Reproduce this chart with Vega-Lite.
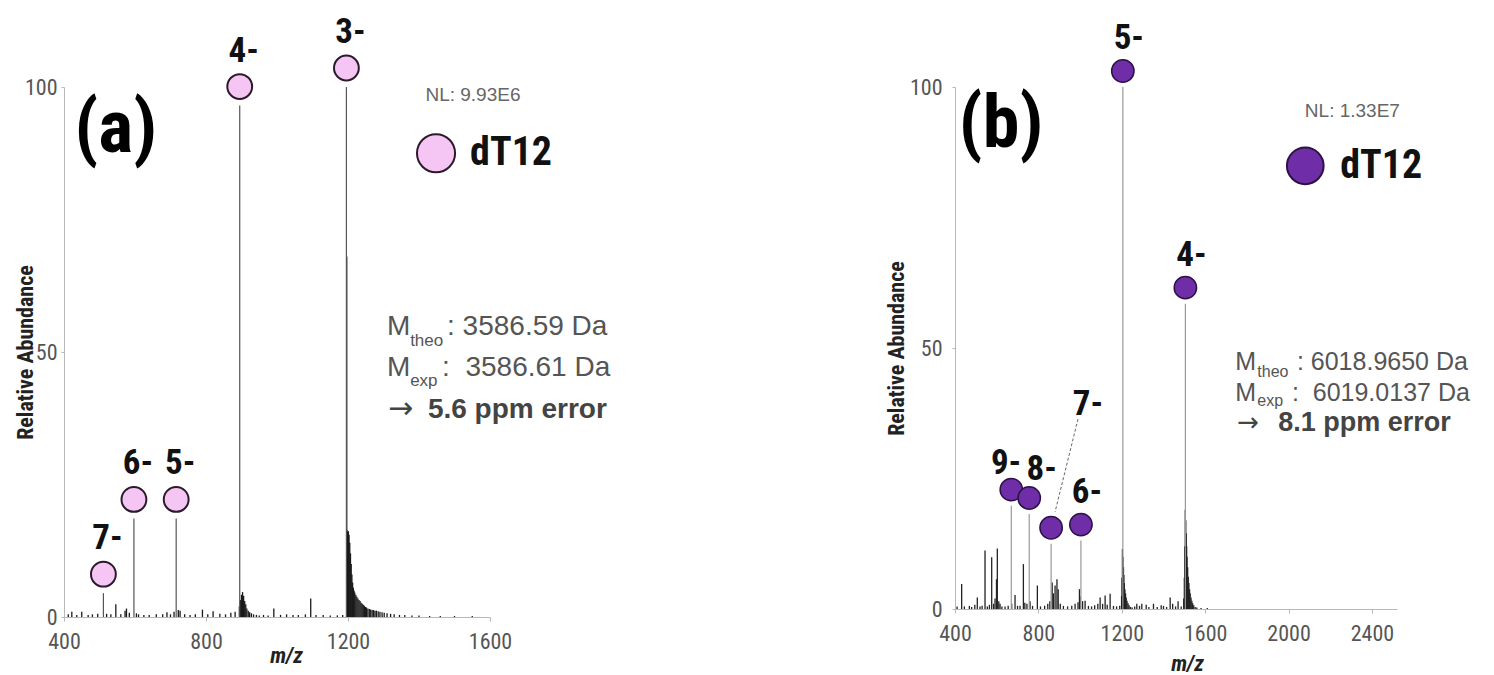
{
  "$schema": "https://vega.github.io/schema/vega-lite/v6.json",
  "autosize": {"type": "none"},
  "padding": {"left": 64, "top": 87, "right": 1430, "bottom": 588},
  "background": "white",
  "bounds": "flush",
  "spacing": 465,
  "config": {
    "view": {"stroke": null},
    "axis": {
      "domainColor": "#b8b8b8", "tickColor": "#b8b8b8", "domainWidth": 1, "tickWidth": 1, "grid": false,
      "labelFont": "Liberation Sans Narrow, Roboto Condensed, Liberation Sans", "labelFontSize": 22, "labelColor": "#555",
      "titleFont": "Liberation Sans Narrow, Roboto Condensed, Liberation Sans", "titleFontSize": 22, "titleFontWeight": "bold", "titleColor": "#222",
      "labelOverlap": false, "labelFlush": false, "format": "d"
    },
    "text": {"font": "Liberation Sans"}
  },
  "datasets": {
    "specA": [
      {"mz": 412, "ab": 0.5}, {"mz": 422, "ab": 1}, {"mz": 436, "ab": 0.4}, {"mz": 450, "ab": 1}, {"mz": 468, "ab": 0.4},
      {"mz": 480, "ab": 0.5}, {"mz": 495, "ab": 0.6}, {"mz": 520, "ab": 0.6}, {"mz": 532, "ab": 0.5}, {"mz": 546, "ab": 2.4},
      {"mz": 560, "ab": 0.5}, {"mz": 572, "ab": 1.2}, {"mz": 576, "ab": 1.6}, {"mz": 584, "ab": 0.8}, {"mz": 604, "ab": 0.7},
      {"mz": 610, "ab": 0.5}, {"mz": 625, "ab": 0.4}, {"mz": 640, "ab": 0.4}, {"mz": 660, "ab": 0.5}, {"mz": 678, "ab": 0.5},
      {"mz": 690, "ab": 0.9}, {"mz": 700, "ab": 0.5}, {"mz": 710, "ab": 1}, {"mz": 722, "ab": 1.3}, {"mz": 727, "ab": 1.2},
      {"mz": 740, "ab": 0.5}, {"mz": 755, "ab": 0.4}, {"mz": 770, "ab": 0.5}, {"mz": 790, "ab": 1.4}, {"mz": 805, "ab": 0.5},
      {"mz": 820, "ab": 1.1}, {"mz": 839, "ab": 0.6}, {"mz": 855, "ab": 0.5}, {"mz": 870, "ab": 0.8}, {"mz": 882, "ab": 1},
      {"mz": 894, "ab": 2}, {"mz": 897, "ab": 3.2}, {"mz": 900, "ab": 4.2}, {"mz": 903, "ab": 4.7}, {"mz": 906, "ab": 4},
      {"mz": 909, "ab": 3}, {"mz": 912, "ab": 2.4}, {"mz": 915, "ab": 1.6}, {"mz": 919, "ab": 1.2}, {"mz": 923, "ab": 0.9},
      {"mz": 928, "ab": 0.7}, {"mz": 934, "ab": 0.5}, {"mz": 942, "ab": 0.4}, {"mz": 950, "ab": 0.3}, {"mz": 962, "ab": 0.4},
      {"mz": 975, "ab": 0.3}, {"mz": 991, "ab": 1.6}, {"mz": 1010, "ab": 0.4}, {"mz": 1027, "ab": 0.5}, {"mz": 1045, "ab": 0.4},
      {"mz": 1060, "ab": 0.4}, {"mz": 1080, "ab": 0.5}, {"mz": 1095, "ab": 3.5}, {"mz": 1110, "ab": 0.4}, {"mz": 1130, "ab": 0.4},
      {"mz": 1150, "ab": 0.3}, {"mz": 1170, "ab": 0.3}, {"mz": 1185, "ab": 0.4},
      {"mz": 1196.5, "ab": 68}, {"mz": 1197, "ab": 16.4}, {"mz": 1199, "ab": 16}, {"mz": 1201, "ab": 16.2}, {"mz": 1203, "ab": 15.5},
      {"mz": 1205, "ab": 14}, {"mz": 1207, "ab": 12}, {"mz": 1209, "ab": 10}, {"mz": 1211, "ab": 8}, {"mz": 1213, "ab": 6.5},
      {"mz": 1215, "ab": 5.5}, {"mz": 1217, "ab": 5}, {"mz": 1219, "ab": 4.6}, {"mz": 1222, "ab": 4.2}, {"mz": 1225, "ab": 3.8},
      {"mz": 1228, "ab": 3.5}, {"mz": 1231, "ab": 3.2}, {"mz": 1234, "ab": 3}, {"mz": 1237, "ab": 2.7}, {"mz": 1240, "ab": 2.5},
      {"mz": 1243, "ab": 2.3}, {"mz": 1246, "ab": 2.1}, {"mz": 1249, "ab": 1.9}, {"mz": 1252, "ab": 1.8}, {"mz": 1256, "ab": 1.6},
      {"mz": 1260, "ab": 1.5}, {"mz": 1264, "ab": 1.4}, {"mz": 1268, "ab": 1.3}, {"mz": 1272, "ab": 1.3}, {"mz": 1276, "ab": 1.2},
      {"mz": 1280, "ab": 1.2}, {"mz": 1285, "ab": 1.1}, {"mz": 1290, "ab": 1}, {"mz": 1296, "ab": 0.9}, {"mz": 1302, "ab": 0.8},
      {"mz": 1310, "ab": 0.7}, {"mz": 1320, "ab": 0.6}, {"mz": 1330, "ab": 0.5}, {"mz": 1345, "ab": 0.4}, {"mz": 1360, "ab": 0.4},
      {"mz": 1380, "ab": 0.3}, {"mz": 1400, "ab": 0.3}, {"mz": 1430, "ab": 0.2}, {"mz": 1460, "ab": 0.2}, {"mz": 1500, "ab": 0.2},
      {"mz": 1550, "ab": 0.2}
    ],
    "peaksA": [
      {"mz": 511, "ab": 4.5, "charge": "7-"},
      {"mz": 597, "ab": 18.6, "charge": "6-"},
      {"mz": 716, "ab": 18.6, "charge": "5-"},
      {"mz": 895, "ab": 96.5, "charge": "4-"},
      {"mz": 1195.5, "ab": 100, "charge": "3-"}
    ],
    "annA": [
      {"kind": "panel", "mz": 546, "ab": 91.9, "t": "(a)"},
      {"kind": "nl", "mz": 1552, "ab": 98.5, "t": "NL: 9.93E6"},
      {"kind": "legend", "mz": 1448, "ab": 87.5, "t": ""},
      {"kind": "name", "mz": 1544, "ab": 87.5, "t": "dT12"},
      {"kind": "mass", "mz": 1310, "ab": 54.7, "t": "M"},
      {"kind": "sub", "mz": 1375, "ab": 52.0, "t": "theo"},
      {"kind": "mass", "mz": 1479, "ab": 54.7, "t": ": 3586.59 Da"},
      {"kind": "mass", "mz": 1310, "ab": 47.0, "t": "M"},
      {"kind": "sub", "mz": 1375, "ab": 44.6, "t": "exp"},
      {"kind": "mass", "mz": 1465, "ab": 47.0, "t": ":\u00a0 3586.61 Da"},
      {"kind": "arrow", "mz": 1313, "ab": 39.3, "t": "→"},
      {"kind": "error", "mz": 1425, "ab": 39.1, "t": "5.6 ppm error"}
    ],
    "specB": [
      {"mz": 410, "ab": 0.5}, {"mz": 432, "ab": 4.8}, {"mz": 445, "ab": 0.5}, {"mz": 469, "ab": 0.6}, {"mz": 480, "ab": 0.4},
      {"mz": 495, "ab": 0.8}, {"mz": 507, "ab": 2.2}, {"mz": 520, "ab": 0.5}, {"mz": 530, "ab": 0.6}, {"mz": 544, "ab": 11.2},
      {"mz": 555, "ab": 0.5}, {"mz": 565, "ab": 0.8}, {"mz": 576, "ab": 9.9}, {"mz": 585, "ab": 1}, {"mz": 592, "ab": 2},
      {"mz": 599, "ab": 5.7}, {"mz": 603, "ab": 11.6}, {"mz": 610, "ab": 1.5}, {"mz": 616, "ab": 1}, {"mz": 625, "ab": 0.5},
      {"mz": 640, "ab": 0.5}, {"mz": 655, "ab": 0.6}, {"mz": 672, "ab": 1}, {"mz": 688, "ab": 2.7}, {"mz": 700, "ab": 0.6},
      {"mz": 712, "ab": 0.6}, {"mz": 728, "ab": 8.6}, {"mz": 735, "ab": 1.2}, {"mz": 745, "ab": 1}, {"mz": 760, "ab": 1.5},
      {"mz": 772, "ab": 0.6}, {"mz": 795, "ab": 4.5}, {"mz": 810, "ab": 0.5}, {"mz": 830, "ab": 0.6}, {"mz": 845, "ab": 1},
      {"mz": 855, "ab": 1.5}, {"mz": 866, "ab": 5.1}, {"mz": 872, "ab": 3}, {"mz": 880, "ab": 4.5}, {"mz": 889, "ab": 5.7},
      {"mz": 895, "ab": 3.8}, {"mz": 905, "ab": 1}, {"mz": 920, "ab": 0.6}, {"mz": 940, "ab": 0.5}, {"mz": 960, "ab": 0.6},
      {"mz": 976, "ab": 1}, {"mz": 990, "ab": 1.3}, {"mz": 997, "ab": 3.8}, {"mz": 1000, "ab": 2.4}, {"mz": 1012, "ab": 1.5},
      {"mz": 1024, "ab": 1.6}, {"mz": 1040, "ab": 0.6}, {"mz": 1055, "ab": 0.5}, {"mz": 1070, "ab": 0.7}, {"mz": 1085, "ab": 1},
      {"mz": 1096, "ab": 2.2}, {"mz": 1108, "ab": 1}, {"mz": 1120, "ab": 2.6}, {"mz": 1130, "ab": 0.8}, {"mz": 1144, "ab": 2.9},
      {"mz": 1160, "ab": 0.6}, {"mz": 1175, "ab": 0.5}, {"mz": 1190, "ab": 0.6},
      {"mz": 1199, "ab": 2.5}, {"mz": 1201, "ab": 6}, {"mz": 1203, "ab": 11.5}, {"mz": 1205.5, "ab": 10}, {"mz": 1208, "ab": 8},
      {"mz": 1210, "ab": 6.5}, {"mz": 1212, "ab": 5}, {"mz": 1215, "ab": 3.8}, {"mz": 1218, "ab": 3}, {"mz": 1221, "ab": 2.2},
      {"mz": 1225, "ab": 1.6}, {"mz": 1230, "ab": 1.1}, {"mz": 1235, "ab": 0.7}, {"mz": 1242, "ab": 0.4}, {"mz": 1250, "ab": 0.3},
      {"mz": 1262, "ab": 0.5}, {"mz": 1272, "ab": 1}, {"mz": 1285, "ab": 0.6}, {"mz": 1296, "ab": 1}, {"mz": 1317, "ab": 0.8},
      {"mz": 1330, "ab": 0.4}, {"mz": 1352, "ab": 1}, {"mz": 1370, "ab": 0.4}, {"mz": 1389, "ab": 0.7}, {"mz": 1400, "ab": 0.6},
      {"mz": 1415, "ab": 0.4}, {"mz": 1432, "ab": 2.2}, {"mz": 1444, "ab": 1}, {"mz": 1458, "ab": 0.5}, {"mz": 1470, "ab": 1.5},
      {"mz": 1485, "ab": 0.5},
      {"mz": 1497, "ab": 2}, {"mz": 1500, "ab": 6}, {"mz": 1502, "ab": 12}, {"mz": 1504.5, "ab": 19}, {"mz": 1507, "ab": 17},
      {"mz": 1509, "ab": 14.5}, {"mz": 1511, "ab": 12}, {"mz": 1513, "ab": 10}, {"mz": 1516, "ab": 8}, {"mz": 1519, "ab": 6.2},
      {"mz": 1522, "ab": 5}, {"mz": 1525, "ab": 3.8}, {"mz": 1528, "ab": 3}, {"mz": 1532, "ab": 2.2}, {"mz": 1536, "ab": 1.6},
      {"mz": 1540, "ab": 1.1}, {"mz": 1545, "ab": 0.7}, {"mz": 1552, "ab": 0.4}, {"mz": 1560, "ab": 0.3}, {"mz": 1580, "ab": 0.2},
      {"mz": 1610, "ab": 0.2}
    ],
    "peaksB": [
      {"mz": 670, "ab": 19.8, "charge": "9-"},
      {"mz": 756, "ab": 18.2, "charge": "8-"},
      {"mz": 861, "ab": 12.5, "charge": "7-"},
      {"mz": 1004, "ab": 13.1, "charge": "6-"},
      {"mz": 1205, "ab": 100, "charge": "5-"},
      {"mz": 1505, "ab": 58.5, "charge": "4-"}
    ],
    "annB": [
      {"kind": "panel", "mz": 621, "ab": 92.7, "t": "(b)"},
      {"kind": "nl", "mz": 2306, "ab": 95.4, "t": "NL: 1.33E7"},
      {"kind": "legend", "mz": 2080, "ab": 84.9, "t": ""},
      {"kind": "name", "mz": 2248, "ab": 84.9, "t": "dT12"},
      {"kind": "mass", "mz": 1744, "ab": 47.3, "t": "M"},
      {"kind": "sub", "mz": 1850, "ab": 45.4, "t": "theo"},
      {"kind": "mass", "mz": 2040, "ab": 47.3, "t": ": 6018.9650 Da"},
      {"kind": "mass", "mz": 1744, "ab": 41.4, "t": "M"},
      {"kind": "sub", "mz": 1850, "ab": 39.9, "t": "exp"},
      {"kind": "mass", "mz": 2016, "ab": 41.4, "t": ":\u00a0 6019.0137 Da"},
      {"kind": "arrow", "mz": 1754, "ab": 35.7, "t": "→"},
      {"kind": "error", "mz": 1950, "ab": 35.6, "t": "8.1 ppm error"},
      {"kind": "charge", "mz": 1038, "ab": 39.3, "t": "7-"},
      {"kind": "charge", "mz": 645, "ab": 28.0, "t": "9-"},
      {"kind": "charge", "mz": 816, "ab": 26.8, "t": "8-"}
    ],
    "leadB": [
      {"mz": 990, "ab": 36.4, "mz2": 880, "ab2": 18.6}
    ]
  },
  "hconcat": [
    {
      "width": 426,
      "height": 530,
      "encoding": {
        "x": {"field": "mz", "type": "quantitative", "scale": {"domain": [400, 1600], "nice": false, "zero": false},
          "axis": {"values": [400, 800, 1200, 1600], "tickSize": 4, "labelPadding": 10, "labelDx": 10, "title": "m/z", "titleFontStyle": "italic", "titleX": 222, "titleY": 45, "titleBaseline": "alphabetic"}},
        "y": {"field": "ab", "type": "quantitative", "scale": {"domain": [0, 100], "nice": false},
          "axis": {"values": [0, 50, 100], "tickSize": 3, "labelPadding": 4, "labelDy": 2, "title": "Relative Abundance", "titleX": -32, "titleY": 265, "titleBaseline": "alphabetic"}}
      },
      "layer": [
        {"data": {"name": "specA"}, "mark": {"type": "rule", "color": "#1a1a1a", "strokeWidth": 1.3}, "encoding": {"y2": {"datum": 0}}},
        {"data": {"name": "peaksA"}, "mark": {"type": "rule", "color": "#555", "strokeWidth": 1.2}, "encoding": {"y2": {"datum": 0}}},
        {"data": {"name": "peaksA"}, "mark": {"type": "point", "shape": "circle", "filled": true, "fill": "#f5c6f3", "stroke": "#2b1a2b", "strokeWidth": 2, "size": 616, "yOffset": -19, "opacity": 1}},
        {"data": {"name": "peaksA"}, "mark": {"type": "text", "font": "Liberation Sans Narrow, Roboto Condensed, Liberation Sans", "fontSize": 35, "fontWeight": "bold", "dy": -55, "dx": 4, "color": "#111", "baseline": "middle", "align": "center"}, "encoding": {"text": {"field": "charge"}}},
        {"data": {"name": "annA"}, "transform": [{"filter": "datum.kind === 'panel'"}], "mark": {"type": "text", "font": "Liberation Sans Narrow, Roboto Condensed, Liberation Sans", "fontSize": 74, "fontWeight": "bold", "align": "center", "baseline": "middle", "color": "#000"}, "encoding": {"text": {"field": "t"}}},
        {"data": {"name": "annA"}, "transform": [{"filter": "datum.kind === 'nl'"}], "mark": {"type": "text", "fontSize": 19, "align": "center", "baseline": "middle", "color": "#666"}, "encoding": {"text": {"field": "t"}}},
        {"data": {"name": "annA"}, "transform": [{"filter": "datum.kind === 'legend'"}], "mark": {"type": "point", "shape": "circle", "filled": true, "fill": "#f5c6f3", "stroke": "#2b1a2b", "strokeWidth": 2, "size": 1452, "opacity": 1}},
        {"data": {"name": "annA"}, "transform": [{"filter": "datum.kind === 'name'"}], "mark": {"type": "text", "font": "Liberation Sans Narrow, Roboto Condensed, Liberation Sans", "fontSize": 40, "fontWeight": "bold", "align": "left", "baseline": "middle", "color": "#111"}, "encoding": {"text": {"field": "t"}}},
        {"data": {"name": "annA"}, "transform": [{"filter": "datum.kind === 'mass'"}], "mark": {"type": "text", "fontSize": 28, "align": "left", "baseline": "middle", "color": "#555"}, "encoding": {"text": {"field": "t"}}},
        {"data": {"name": "annA"}, "transform": [{"filter": "datum.kind === 'sub'"}], "mark": {"type": "text", "fontSize": 17, "align": "left", "baseline": "middle", "color": "#555"}, "encoding": {"text": {"field": "t"}}},
        {"data": {"name": "annA"}, "transform": [{"filter": "datum.kind === 'arrow'"}], "mark": {"type": "text", "font": "DejaVu Sans", "fontSize": 30, "align": "left", "baseline": "middle", "color": "#444"}, "encoding": {"text": {"field": "t"}}},
        {"data": {"name": "annA"}, "transform": [{"filter": "datum.kind === 'error'"}], "mark": {"type": "text", "fontSize": 28, "fontWeight": "bold", "align": "left", "baseline": "middle", "color": "#444"}, "encoding": {"text": {"field": "t"}}}
      ]
    },
    {
      "width": 442,
      "height": 522,
      "encoding": {
        "x": {"field": "mz", "type": "quantitative", "scale": {"domain": [400, 2520], "nice": false, "zero": false},
          "axis": {"values": [400, 800, 1200, 1600, 2000, 2400], "tickSize": 4, "labelPadding": 10, "labelDx": 11, "title": "m/z", "titleFontStyle": "italic", "titleX": 232, "titleY": 61, "titleBaseline": "alphabetic"}},
        "y": {"field": "ab", "type": "quantitative", "scale": {"domain": [0, 100], "nice": false},
          "axis": {"values": [0, 50, 100], "tickSize": 3, "labelPadding": 10, "labelDy": 5, "title": "Relative Abundance", "titleX": -52, "titleY": 261, "titleBaseline": "alphabetic"}}
      },
      "layer": [
        {"data": {"name": "specB"}, "mark": {"type": "rule", "color": "#222", "strokeWidth": 1.3}, "encoding": {"y2": {"datum": 0}}},
        {"data": {"name": "peaksB"}, "mark": {"type": "rule", "color": "#999", "strokeWidth": 1.2}, "encoding": {"y2": {"datum": 0}}},
        {"data": {"name": "leadB"}, "mark": {"type": "rule", "color": "#667", "strokeWidth": 1, "strokeDash": [3, 2]}, "encoding": {"x2": {"field": "mz2"}, "y2": {"field": "ab2"}}},
        {"data": {"name": "peaksB"}, "mark": {"type": "point", "shape": "circle", "filled": true, "fill": "#6f2da8", "stroke": "#2c1245", "strokeWidth": 1.5, "size": 500, "yOffset": -16, "opacity": 1}},
        {"data": {"name": "peaksB"}, "transform": [{"filter": "datum.charge === '6-' || datum.charge === '5-' || datum.charge === '4-'"}], "mark": {"type": "text", "font": "Liberation Sans Narrow, Roboto Condensed, Liberation Sans", "fontSize": 35, "fontWeight": "bold", "dy": -49, "dx": 6, "color": "#111", "baseline": "middle", "align": "center"}, "encoding": {"text": {"field": "charge"}}},
        {"data": {"name": "annB"}, "transform": [{"filter": "datum.kind === 'charge'"}], "mark": {"type": "text", "font": "Liberation Sans Narrow, Roboto Condensed, Liberation Sans", "fontSize": 35, "fontWeight": "bold", "color": "#111", "baseline": "middle", "align": "center"}, "encoding": {"text": {"field": "t"}}},
        {"data": {"name": "annB"}, "transform": [{"filter": "datum.kind === 'panel'"}], "mark": {"type": "text", "font": "Liberation Sans Narrow, Roboto Condensed, Liberation Sans", "fontSize": 74, "fontWeight": "bold", "align": "center", "baseline": "middle", "color": "#000"}, "encoding": {"text": {"field": "t"}}},
        {"data": {"name": "annB"}, "transform": [{"filter": "datum.kind === 'nl'"}], "mark": {"type": "text", "fontSize": 19, "align": "center", "baseline": "middle", "color": "#666"}, "encoding": {"text": {"field": "t"}}},
        {"data": {"name": "annB"}, "transform": [{"filter": "datum.kind === 'legend'"}], "mark": {"type": "point", "shape": "circle", "filled": true, "fill": "#6f2da8", "stroke": "#2c1245", "strokeWidth": 2, "size": 1346, "opacity": 1}},
        {"data": {"name": "annB"}, "transform": [{"filter": "datum.kind === 'name'"}], "mark": {"type": "text", "font": "Liberation Sans Narrow, Roboto Condensed, Liberation Sans", "fontSize": 40, "fontWeight": "bold", "align": "left", "baseline": "middle", "color": "#111"}, "encoding": {"text": {"field": "t"}}},
        {"data": {"name": "annB"}, "transform": [{"filter": "datum.kind === 'mass'"}], "mark": {"type": "text", "fontSize": 25, "align": "left", "baseline": "middle", "color": "#555"}, "encoding": {"text": {"field": "t"}}},
        {"data": {"name": "annB"}, "transform": [{"filter": "datum.kind === 'sub'"}], "mark": {"type": "text", "fontSize": 16, "align": "left", "baseline": "middle", "color": "#555"}, "encoding": {"text": {"field": "t"}}},
        {"data": {"name": "annB"}, "transform": [{"filter": "datum.kind === 'arrow'"}], "mark": {"type": "text", "font": "DejaVu Sans", "fontSize": 26, "align": "left", "baseline": "middle", "color": "#444"}, "encoding": {"text": {"field": "t"}}},
        {"data": {"name": "annB"}, "transform": [{"filter": "datum.kind === 'error'"}], "mark": {"type": "text", "fontSize": 27, "fontWeight": "bold", "align": "left", "baseline": "middle", "color": "#444"}, "encoding": {"text": {"field": "t"}}}
      ]
    }
  ]
}
